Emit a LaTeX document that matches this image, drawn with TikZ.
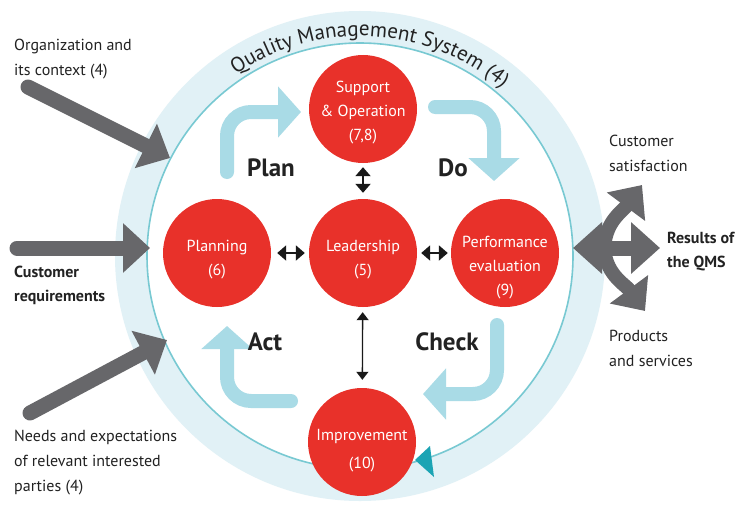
\documentclass[tikz,border=0pt]{standalone}
\usepackage{fontspec}
\setmainfont{PT Sans}
\usetikzlibrary{arrows.meta,decorations.text}
\definecolor{ringblue}{HTML}{E1F1F6}
\definecolor{tealline}{HTML}{78C9D2}
\definecolor{qred}{HTML}{E8312A}
\definecolor{qgray}{HTML}{67676A}
\definecolor{flowblue}{HTML}{A9DBE6}
\definecolor{qtext}{HTML}{222222}
\definecolor{tealtri}{HTML}{1CA4B4}
\begin{document}
\begin{tikzpicture}[x=1pt,y=-1pt,
 proc/.style={circle,fill=qred,minimum size=108pt,inner sep=0pt},
 proctext/.style={text=white,font=\fontsize{16}{24}\selectfont,align=center,inner sep=0pt},
 lbl/.style={text=qtext,font=\fontsize{16}{25}\selectfont,align=left,anchor=west,inner sep=0pt},
 blbl/.style={text=qtext,font=\bfseries\fontsize{16}{24}\selectfont,align=left,anchor=west,inner sep=0pt},
 phase/.style={text=qtext,font=\bfseries\fontsize{25}{30}\selectfont,inner sep=0pt},
 inarrow/.style={draw=qgray,line width=15pt,line cap=round,-{Triangle[width=48pt,length=27pt]}},
 flow/.style={draw=flowblue,line width=14pt,line cap=round,rounded corners=24pt,-{Triangle[width=50pt,length=23pt]}},
 dbl/.style={draw=black!90,line width=2pt,{Triangle[width=15pt,length=9pt]}-{Triangle[width=15pt,length=9pt]}},
 dblthin/.style={draw=black!90,line width=1.3pt,{Triangle[width=12pt,length=8pt]}-{Triangle[width=12pt,length=8pt]}},
]
\useasboundingbox (0,0) rectangle (754,511);
\fill[white] (0,0) rectangle (754,511);
% ring
\fill[ringblue] (360,256) circle[radius=245];
\filldraw[fill=white,draw=tealline,line width=1.6pt] (360,256) circle[radius=213];
\path[decorate,decoration={text along path,text align=center,text color=qtext,
  text={|\fontsize{21}{21}\selectfont|Quality Management System (4)}}]
  (360,256) ++(-133:220) arc[start angle=-133,end angle=-41,radius=220];
% incoming gray arrows
\coordinate (g1s) at (28,87); \coordinate (g1e) at (170,158);
\coordinate (g2s) at (17,248); \coordinate (g2e) at (150,248);
\coordinate (g3s) at (30,413); \coordinate (g3e) at (167,340);
\draw[inarrow] (g1s) -- (g1e);
\draw[inarrow] (g2s) -- (g2e);
\draw[inarrow] (g3s) -- (g3e);
% outgoing gray arrows
\coordinate (rl) at (573,248); \coordinate (rr) at (660,248);
\coordinate (ru0) at (604,252); \coordinate (ru) at (642,185);
\coordinate (rd0) at (604,244); \coordinate (rd) at (645,311);
\draw[qgray,line width=15pt,{Triangle[width=50pt,length=29pt]}-{Triangle[width=50pt,length=29pt]}] (rl) -- (rr);
\draw[qgray,line width=14pt,-{Triangle[width=46pt,length=27pt]}] (ru0) .. controls (604,222) and (622,212) .. (ru);
\draw[qgray,line width=14pt,-{Triangle[width=46pt,length=27pt]}] (rd0) .. controls (604,274) and (625,284) .. (rd);
% PDCA flow arrows
\coordinate (pa) at (227,172); \coordinate (pb) at (301,112);
\coordinate (da) at (435,107); \coordinate (db) at (494,181);
\coordinate (ca) at (497,325); \coordinate (cb) at (423,394);
\coordinate (aa) at (291,401); \coordinate (ab) at (227,326);
\draw[flow] (pa) |- (pb);
\draw[flow] (da) -| (db);
\draw[flow] (ca) |- (cb);
\draw[flow] (aa) -| (ab);
% process circles
\node[proc] (S) at (363,109) {};
\node[proc] (L) at (363,253) {};
\node[proc] (P) at (217,253) {};
\node[proc] (E) at (505,253) {};
\node[proc] (I) at (362,442) {};
\node[proctext] (St) at (363,113) {Support\\\& Operation\\(7,8)};
\node[proctext] (Lt) at (363,260) {Leadership\\(5)};
\node[proctext] (Pt) at (217,260) {Planning\\(6)};
\node[proctext] (Et) at (505,268) {Performance\\evaluation\\(9)};
\node[proctext,font=\fontsize{16}{28}\selectfont] (It) at (362,451) {Improvement\\(10)};
% black connectors
\draw[dbl,shorten <=4pt,shorten >=6pt] (S) -- (L);
\draw[dbl,shorten <=6pt,shorten >=4pt] (P) -- (L);
\draw[dbl,shorten <=4pt,shorten >=3pt] (L) -- (E);
\draw[dblthin,shorten <=5pt,shorten >=8pt] (L) -- (I);
% teal triangle
\fill[tealtri] (415,460) -- (430,446) -- (434,477) -- cycle;
% phase labels
\node[phase] (plan) at (271,168) {Plan};
\node[phase] (do) at (453,168) {Do};
\node[phase] (act) at (265,342) {Act};
\node[phase] (check) at (447,342) {Check};
% side labels
\node[lbl] (org) at (14,59) {Organization and\\its context (4)};
\node[blbl] (creq) at (14,285) {Customer\\requirements};
\node[lbl] (needs) at (14,463) {Needs and expectations\\of relevant interested\\parties (4)};
\node[lbl] (csat) at (609,153) {Customer\\satisfaction};
\node[blbl] (res) at (667,252) {Results of\\the QMS};
\node[lbl] (prod) at (609,348) {Products\\and services};
\end{tikzpicture}
\end{document}
